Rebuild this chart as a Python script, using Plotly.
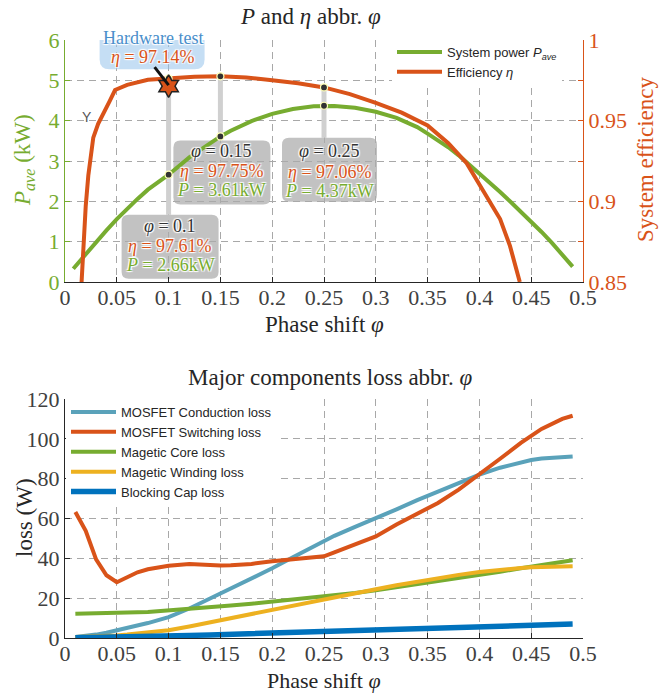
import plotly.graph_objects as go

# ---------------- data ----------------
phi_p = [0.008, 0.02, 0.03, 0.04, 0.05, 0.06, 0.07, 0.08, 0.09, 0.10, 0.12, 0.14, 0.15,
         0.16, 0.18, 0.20, 0.22, 0.24, 0.25, 0.26, 0.28, 0.30, 0.32, 0.34, 0.35, 0.36,
         0.37, 0.38, 0.39, 0.40, 0.41, 0.42, 0.43, 0.44, 0.45, 0.46, 0.47, 0.48, 0.49]
p_ave = [0.33, 0.70, 1.00, 1.28, 1.56, 1.82, 2.06, 2.29, 2.48, 2.66, 3.09, 3.45, 3.61,
         3.75, 3.99, 4.17, 4.29, 4.355, 4.37, 4.365, 4.32, 4.22, 4.07, 3.84, 3.68, 3.52,
         3.34, 3.14, 2.92, 2.69, 2.46, 2.23, 1.99, 1.75, 1.50, 1.24, 0.97, 0.68, 0.38]

phi_e = [0.0160, 0.0177, 0.020, 0.0225, 0.025, 0.0273, 0.032, 0.037, 0.043, 0.0483, 0.06,
         0.08, 0.10, 0.125, 0.15, 0.175, 0.20, 0.225, 0.25, 0.275, 0.30, 0.325, 0.35,
         0.37, 0.3877, 0.397, 0.41, 0.42, 0.4295, 0.4375, 0.439]
eff = [0.850, 0.872, 0.897, 0.916, 0.929, 0.9395, 0.948, 0.955, 0.962, 0.969, 0.9722,
       0.9753, 0.9761, 0.9772, 0.9775, 0.9768, 0.975, 0.9732, 0.9706, 0.9665, 0.961,
       0.955, 0.947, 0.936, 0.9236, 0.9136, 0.900, 0.889, 0.8724, 0.8539, 0.850]

tip_phi = [0.10, 0.15, 0.25]
tip_eff = [0.9761, 0.9775, 0.9706]
tip_p = [2.66, 3.61, 4.37]
tip_eff_txt = ["97.61%", "97.75%", "97.06%"]
tip_p_txt = ["2.66kW", "3.61kW", "4.37kW"]
tip_phi_txt = ["0.1", "0.15", "0.25"]

hw_phi = 0.10
hw_eff = 0.9714

phi_loss = [0.01, 0.02, 0.03, 0.04, 0.05, 0.06, 0.07, 0.08, 0.10, 0.12, 0.14, 0.15, 0.16,
            0.18, 0.20, 0.22, 0.24, 0.25, 0.26, 0.28, 0.30, 0.32, 0.34, 0.35, 0.36, 0.38,
            0.40, 0.42, 0.44, 0.45, 0.46, 0.48, 0.49]
cond_loss = [0.5, 1.0, 1.7, 2.6, 3.7, 4.9, 6.2, 7.5, 10.5, 14.8, 19.8, 22.3, 24.8,
             29.7, 35.0, 40.6, 46.2, 48.8, 51.3, 55.8, 60.0, 64.6, 69.2, 71.4, 73.6, 78.0,
             82.0, 85.5, 88.3, 89.4, 90.1, 90.8, 91.1]
sw_loss = [63.3, 53.8, 39.5, 31.5, 28.0, 30.3, 33.0, 34.5, 36.3, 37.2, 36.6, 36.4, 36.5,
           37.2, 38.5, 39.7, 40.5, 41.0, 43.0, 47.0, 51.0, 57.0, 62.5, 65.0, 67.8, 74.5,
           82.0, 90.0, 98.0, 101.5, 105.0, 110.0, 111.6]
core_loss = [12.2, 12.25, 12.3, 12.4, 12.5, 12.7, 12.9, 13.1, 13.8, 14.6, 15.5, 15.9, 16.3,
             17.2, 18.2, 19.2, 20.1, 20.6, 21.2, 22.6, 24.0, 25.5, 26.9, 27.7, 28.5, 30.0,
             31.6, 33.3, 35.0, 35.9, 36.8, 38.4, 39.0]
wind_loss = [0.5, 0.6, 0.8, 1.0, 1.3, 1.7, 2.2, 2.7, 3.9, 5.8, 7.9, 9.0, 10.1,
             12.2, 14.3, 16.5, 18.7, 19.7, 20.7, 22.6, 24.5, 26.5, 28.4, 29.3, 30.1, 31.7,
             33.1, 34.3, 35.2, 35.5, 35.7, 35.9, 36.0]
cap_loss = [0.1, 0.15, 0.2, 0.3, 0.4, 0.5, 0.6, 0.7, 1.0, 1.3, 1.55, 1.7, 1.85,
            2.15, 2.5, 2.85, 3.2, 3.4, 3.55, 3.95, 4.3, 4.65, 5.0, 5.2, 5.35, 5.7,
            6.0, 6.25, 6.5, 6.6, 6.7, 6.9, 7.0]

x_ticks = [0, 0.05, 0.1, 0.15, 0.2, 0.25, 0.3, 0.35, 0.4, 0.45, 0.5]
x_ticktext = ["0", "0.05", "0.1", "0.15", "0.2", "0.25", "0.3", "0.35", "0.4", "0.45", "0.5"]
eff_ticks = [0.85, 0.9, 0.95, 1.0]
eff_ticktext = ["0.85", "0.9", "0.95", "1"]

# ---------------- style ----------------
GREEN = "#77AC30"
ORANGE = "#D95319"
TEAL = "#5AA2BA"
YELLOW = "#EDB120"
BLUE = "#0072BD"
DARK = "#404040"
GRID = "#A8A8A8"
SERIF = "Liberation Serif, Times New Roman, serif"
SANS = "Liberation Sans, Arial, sans-serif"
HALO = "1px 1px 1px white, -1px -1px 1px white, 1px -1px 1px white, -1px 1px 1px white"

W, H = 660, 694
ML, MR, MT, MB = 65, 77, 40, 56
PW, PH = W - ML - MR, H - MT - MB
def fx(px):
    return (px - ML) / PW
def fy(py):
    return (H - MB - py) / PH

TOP_DOM = [fy(282), 1.0]
BOT_DOM = [0.0, fy(399)]

fig = go.Figure()

# top plot traces
fig.add_trace(go.Scatter(x=phi_p, y=p_ave, mode="lines", name="System power <i>P</i><sub><i>ave</i></sub>",
                         line=dict(color=GREEN, width=4), xaxis="x", yaxis="y", legend="legend"))
fig.add_trace(go.Scatter(x=phi_e, y=eff, mode="lines", name="Efficiency <i>η</i>",
                         line=dict(color=ORANGE, width=4), xaxis="x", yaxis="y2", legend="legend"))
# data-tip dots
fig.add_trace(go.Scatter(x=tip_phi, y=tip_eff, mode="markers", showlegend=False, xaxis="x", yaxis="y2",
                         marker=dict(color="#333333", size=7, line=dict(color="#FFFFB8", width=1.2))))
fig.add_trace(go.Scatter(x=tip_phi, y=tip_p, mode="markers", showlegend=False, xaxis="x", yaxis="y",
                         marker=dict(color="#333333", size=7, line=dict(color="#FFFFB8", width=1.2))))
# hardware test star
fig.add_trace(go.Scatter(x=[hw_phi], y=[hw_eff], mode="markers", showlegend=False, xaxis="x", yaxis="y2",
                         marker=dict(symbol="hexagram", color=ORANGE, size=17, line=dict(color="#222222", width=1.5))))

# bottom plot traces
loss_series = [
    ("MOSFET Conduction loss", cond_loss, TEAL, 4),
    ("MOSFET Switching loss", sw_loss, ORANGE, 4),
    ("Magetic Core loss", core_loss, GREEN, 4),
    ("Magetic Winding loss", wind_loss, YELLOW, 4),
    ("Blocking Cap loss", cap_loss, BLUE, 5.5),
]
for name, vals, col, w in loss_series:
    fig.add_trace(go.Scatter(x=phi_loss, y=vals, mode="lines", name=name,
                             line=dict(color=col, width=w), xaxis="x2", yaxis="y3", legend="legend2"))

shapes = []
annotations = []

# data tips: (box x0, x1, y_top, y_bottom) in px relative to the P point, y up
tip_boxes = [(-47, 50, -40, -104), (-47, 50, -4, -68), (-42, 53, -32, -96)]
tip_lines = [(-51, -71, -90), (-15, -35, -54), (-45, -66, -85)]
def rrect(x0, x1, ya, yb, r=7):
    y0, y1 = min(ya, yb), max(ya, yb)
    return (f"M{x0+r},{y0} L{x1-r},{y0} Q{x1},{y0} {x1},{y0+r} L{x1},{y1-r} Q{x1},{y1} {x1-r},{y1} "
            f"L{x0+r},{y1} Q{x0},{y1} {x0},{y1-r} L{x0},{y0+r} Q{x0},{y0} {x0+r},{y0} Z")

for i in range(3):
    ph, pv, ev = tip_phi[i], tip_p[i], tip_eff[i]
    bx0, bx1, btop, bbot = tip_boxes[i]
    # gray bar: from efficiency point to power point (same pixel scale via axis mapping)
    e_in_kw = (ev - 0.85) / 0.15 * 6
    shapes.append(dict(type="line", xref="x", yref="y", x0=ph, x1=ph, y0=e_in_kw, y1=pv,
                       line=dict(color="#D0D0D0", width=5), layer="between"))
    shapes.append(dict(type="line", xref="x", yref="y", xsizemode="pixel", ysizemode="pixel",
                       xanchor=ph, yanchor=pv, x0=0, x1=0, y0=0, y1=btop,
                       line=dict(color="#D0D0D0", width=5), layer="between"))
    shapes.append(dict(type="path", xref="x", yref="y", xsizemode="pixel", ysizemode="pixel",
                       xanchor=ph, yanchor=pv, path=rrect(bx0, bx1, btop, bbot),
                       fillcolor="rgba(170,170,170,0.72)", line=dict(width=0), layer="between"))
    cx = (bx0 + bx1) / 2
    l1, l2, l3 = tip_lines[i]
    for txt, col, yy in [(f"<i>φ</i> = {tip_phi_txt[i]}", "#333333", l1),
                         (f"<i>η</i> = {tip_eff_txt[i]}", ORANGE, l2),
                         (f"<i>P</i> = {tip_p_txt[i]}", GREEN, l3)]:
        annotations.append(dict(x=ph, y=pv, xref="x", yref="y", xshift=cx, yshift=yy, text=txt,
                                showarrow=False, font=dict(family=SERIF, size=18, color=col, shadow=HALO)))

# hardware test box
shapes.append(dict(type="path", xref="x", yref="y2", xsizemode="pixel", ysizemode="pixel",
                   xanchor=hw_phi, yanchor=hw_eff, path=rrect(-69, 36, 61, 17, r=10),
                   fillcolor="rgba(150,195,235,0.55)", line=dict(width=0), layer="above"))
shapes.append(dict(type="line", xref="x", yref="y2", xsizemode="pixel", ysizemode="pixel",
                   xanchor=hw_phi, yanchor=hw_eff, x0=-14, y0=19, x1=0, y1=1,
                   line=dict(color="#111111", width=3), layer="above"))
annotations.append(dict(x=hw_phi, y=hw_eff, xref="x", yref="y2", xshift=-16, yshift=48,
                        text="Hardware test", showarrow=False,
                        font=dict(family=SERIF, size=18, color="#4A8FCB", shadow=HALO)))
annotations.append(dict(x=hw_phi, y=hw_eff, xref="x", yref="y2", xshift=-16, yshift=29,
                        text="<i>η</i> = 97.14%", showarrow=False,
                        font=dict(family=SERIF, size=18, color=ORANGE, shadow=HALO)))
annotations.append(dict(x=0.0212, y=4.09, xref="x", yref="y", text="Y", showarrow=False,
                        font=dict(family=SANS, size=14, color="#555555")))

# titles
def title(text, px, py, size=23, color="#262626", angle=0):
    annotations.append(dict(x=fx(px), y=fy(py), xref="paper", yref="paper", text=text,
                            showarrow=False, textangle=angle, xanchor="center", yanchor="middle",
                            font=dict(family=SERIF, size=size, color=color)))
title("<i>P</i> and <i>η</i> abbr. <i>φ</i>", 310, 17)
title("Phase shift <i>φ</i>", 324, 324)
title("<i>P</i><sub><i>ave</i></sub> (kW)", 24, 160, color=GREEN, angle=-90)
title("System efficiency", 645, 160, color=ORANGE, angle=-90)
title("Major components loss abbr. <i>φ</i>", 330, 377)
title("loss (W)", 24, 518, angle=-90)
title("Phase shift <i>φ</i>", 324, 680, size=22)

tickfont = dict(family=SERIF, size=22, color=DARK)
xcommon = dict(range=[0, 0.5], tickvals=x_ticks, ticktext=x_ticktext, ticks="inside", ticklen=5,
               tickcolor="#262626", showline=True, linecolor="#262626", linewidth=1.2,
               showgrid=True, gridcolor=GRID, griddash="7px,5px", gridwidth=1,
               zeroline=False, tickfont=tickfont, ticklabelstandoff=-5)

fig.update_layout(
    width=W, height=H, margin=dict(l=ML, r=MR, t=MT, b=MB),
    paper_bgcolor="white", plot_bgcolor="white",
    xaxis=dict(domain=[0, 1], anchor="y", **xcommon),
    yaxis=dict(domain=TOP_DOM, range=[0, 6], dtick=1, ticks="inside", ticklen=5, tickcolor=GREEN,
               showline=True, linecolor=GREEN, linewidth=1.2, showgrid=True, gridcolor=GRID,
               griddash="7px,5px", zeroline=False, tickfont=dict(family=SERIF, size=22, color=GREEN)),
    yaxis2=dict(overlaying="y", side="right", anchor="x", range=[0.85, 1.0], tickvals=eff_ticks,
                ticktext=eff_ticktext, ticks="inside", ticklen=5, tickcolor=ORANGE, showline=True,
                linecolor=ORANGE, linewidth=1.2, showgrid=False, zeroline=False,
                minor=dict(dtick=0.025, ticks="inside", ticklen=5, tickcolor=ORANGE, showgrid=False),
                tickfont=dict(family=SERIF, size=22, color=ORANGE)),
    xaxis2=dict(domain=[0, 1], anchor="y3", **xcommon),
    yaxis3=dict(domain=BOT_DOM, range=[0, 120], dtick=20, ticks="inside", ticklen=5,
                tickcolor="#262626", showline=True, linecolor="#262626", linewidth=1.2,
                showgrid=True, gridcolor=GRID, griddash="7px,5px", zeroline=False, tickfont=tickfont),
    legend=dict(x=fx(392), y=fy(37), xanchor="left", yanchor="top", bgcolor="white",
                font=dict(family=SANS, size=13, color="#262626"), itemwidth=45,
                tracegroupgap=0, borderwidth=0),
    legend2=dict(x=fx(66), y=fy(397), xanchor="left", yanchor="top", bgcolor="white",
                 font=dict(family=SANS, size=13, color="#262626"), itemwidth=45,
                 tracegroupgap=0, borderwidth=0),
    shapes=shapes, annotations=annotations, showlegend=True,
)

fig.write_html("out.html")
